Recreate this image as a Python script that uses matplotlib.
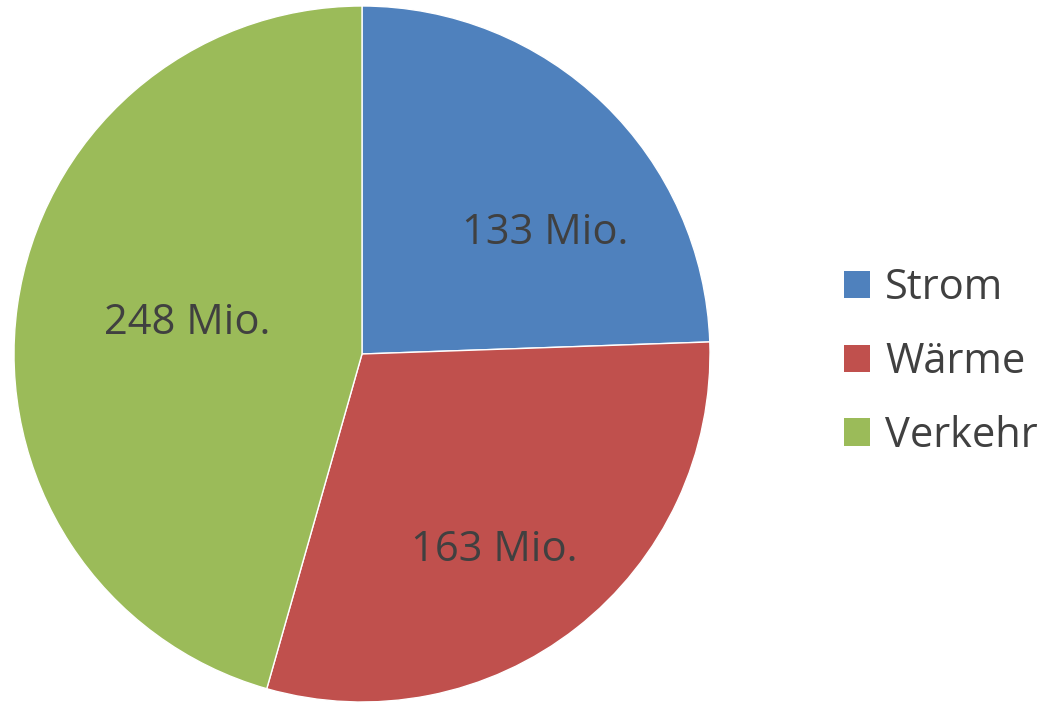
import numpy as np
import matplotlib.pyplot as plt
from matplotlib.patches import Patch

# Data
categories = ['Strom', 'Wärme', 'Verkehr']
values = [133, 163, 248]
labels = ['133 Mio.', '163 Mio.', '248 Mio.']
colors = ['#4F81BD', '#C0504D', '#9BBB59']

# label placement (fraction of radius, angle shift in degrees) as in the source
label_dist = [0.63, 0.68, 0.51]
label_shift = [-12.5, -4, -2]

plt.rcParams['font.family'] = ['Open Sans', 'DejaVu Sans']
text_color = '#404040'

fig = plt.figure(figsize=(10.43, 7.05), dpi=100)
# pie centre ~ (362, 354) px, radius ~ 348 px
r_px = 348
ax = fig.add_axes([(362 - r_px) / 1043, (705 - 354 - r_px) / 705,
                   2 * r_px / 1043, 2 * r_px / 705])

wedges, _ = ax.pie(values, colors=colors, startangle=90, counterclock=False,
                   radius=1, wedgeprops=dict(edgecolor='white', linewidth=1))
for w, lab, d, s in zip(wedges, labels, label_dist, label_shift):
    ang = np.deg2rad((w.theta1 + w.theta2) / 2 + s)
    ax.text(d * np.cos(ang), d * np.sin(ang), lab, ha='center', va='center',
            fontsize=30, color=text_color)
ax.set_xlim(-1, 1)
ax.set_ylim(-1, 1)
ax.set_aspect('equal')
ax.axis('off')

handles = [Patch(facecolor=c, edgecolor='none') for c in colors]
leg = fig.legend(handles, categories, loc='center left',
                 bbox_to_anchor=(844 / 1043, 1 - 362 / 705),
                 frameon=False, fontsize=30, borderpad=0, borderaxespad=0,
                 handlelength=0.63, handleheight=0.63, handletextpad=0.36,
                 labelspacing=0.76)
for t in leg.get_texts():
    t.set_color(text_color)

fig.savefig('out.png', dpi=100)
